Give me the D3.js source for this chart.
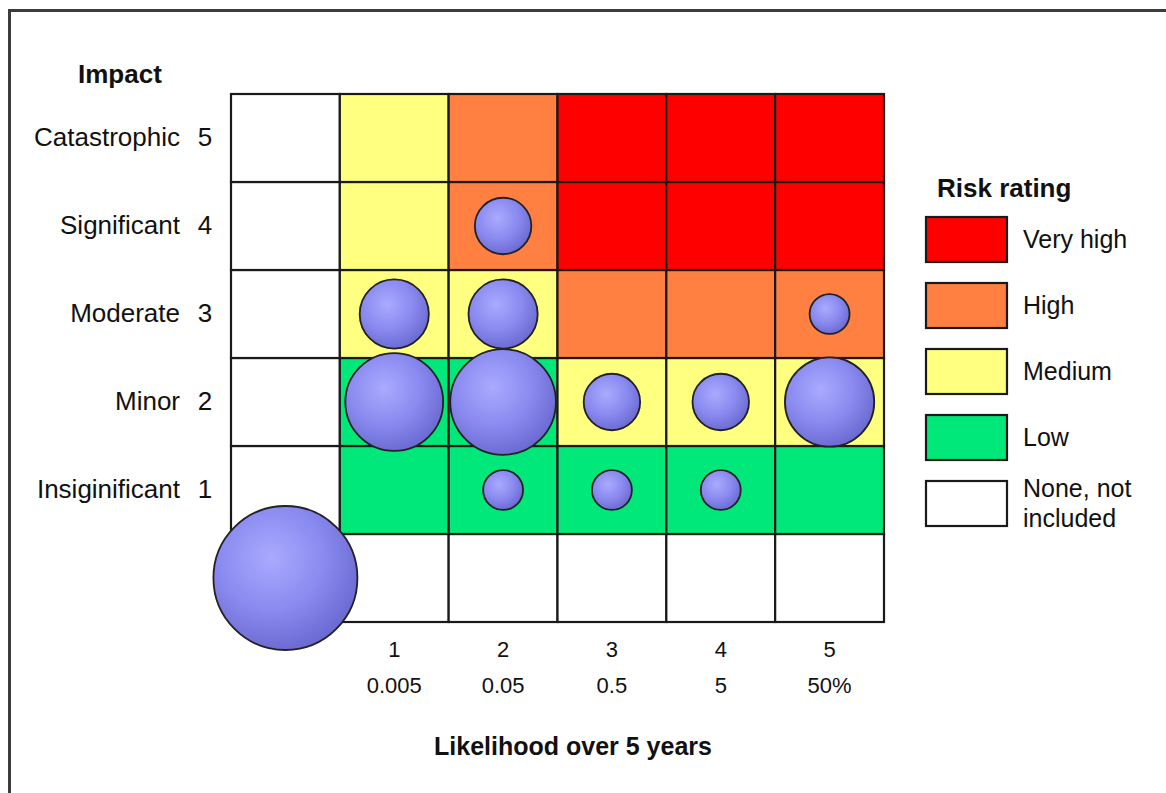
<!DOCTYPE html>
<html>
<head>
<meta charset="utf-8">
<script src="https://d3js.org/d3.v7.min.js"></script>
<style>
  html, body { margin: 0; padding: 0; background: #fff; }
  svg { display: block; }
  text { font-family: "Liberation Sans", Arial, sans-serif; fill: #111; }
</style>
</head>
<body>
<div id="chart"></div>
<script>
// likelihood columns (0 = not rated) and impact rows (0 = not rated)
const levels = [0, 1, 2, 3, 4, 5];
const likelihoodTicks = ["", "1", "2", "3", "4", "5"];
const likelihoodProb = ["", "0.005", "0.05", "0.5", "5", "50%"];
const impactNames = ["", "Insiginificant", "Minor", "Moderate", "Significant", "Catastrophic"];

// rating of each cell, one row per impact level (0..5), one entry per likelihood (0..5)
const ratingGrid = [
    ["none", "none",   "none",   "none",      "none",      "none"],
    ["none", "low",    "low",    "low",       "low",       "low"],
    ["none", "low",    "low",    "medium",    "medium",    "medium"],
    ["none", "medium", "medium", "high",      "high",      "high"],
    ["none", "medium", "high",   "very high", "very high", "very high"],
    ["none", "medium", "high",   "very high", "very high", "very high"]
];

const ratingKeys = ["very high", "high", "medium", "low", "none"];
const ratingLabels = ["Very high", "High", "Medium", "Low", "None, not|included"];
const ratingColors = ["#ff0000", "#ff8040", "#ffff80", "#00e87a", "#ffffff"];

// number of risks in each cell
const riskLikelihood = [0, 2, 1, 2, 5, 1, 2, 3, 4, 5, 2, 3, 4];
const riskImpact     = [0, 4, 3, 3, 3, 2, 2, 2, 2, 2, 1, 1, 1];
const riskCount      = [13, 2, 3, 3, 1, 6, 7, 2, 2, 5, 1, 1, 1];

const width = 1166, height = 793;

const svg = d3.select("#chart").append("svg")
    .attr("width", width)
    .attr("height", height);

// outer frame (only top and left edges are in view)
svg.append("path")
    .attr("d", `M9.5,${height} V10.5 H${width}`)
    .attr("fill", "none")
    .attr("stroke", "#3c3c3c")
    .attr("stroke-width", 3);

const x = d3.scaleBand().domain(levels).range([231, 884]);
const y = d3.scaleBand().domain(levels).range([622, 94]);
const color = d3.scaleOrdinal().domain(ratingKeys).range(ratingColors);
const r = d3.scaleSqrt().domain([0, 13]).range([0, 72]);

const defs = svg.append("defs");
const grad = defs.append("radialGradient")
    .attr("id", "ball")
    .attr("cx", "40%").attr("cy", "36%").attr("r", "66%");
grad.append("stop").attr("offset", "0%").attr("stop-color", "#aaaaff");
grad.append("stop").attr("offset", "55%").attr("stop-color", "#8a8af0");
grad.append("stop").attr("offset", "100%").attr("stop-color", "#6a6ad2");

// cells
const cells = [];
levels.forEach(i => levels.forEach(l => cells.push({ l: l, i: i, rating: ratingGrid[i][l] })));

svg.append("g").selectAll("rect")
    .data(cells)
    .join("rect")
    .attr("x", d => x(d.l))
    .attr("y", d => y(d.i))
    .attr("width", x.bandwidth())
    .attr("height", y.bandwidth())
    .attr("fill", d => color(d.rating))
    .attr("stroke", "#1a1a1a")
    .attr("stroke-width", 2.2);

// bubbles
const risks = riskCount.map((n, k) => ({ l: riskLikelihood[k], i: riskImpact[k], n: n }));

svg.append("g").selectAll("circle")
    .data(risks)
    .join("circle")
    .attr("cx", d => x(d.l) + x.bandwidth() / 2)
    .attr("cy", d => y(d.i) + y.bandwidth() / 2)
    .attr("r", d => r(d.n))
    .attr("fill", "url(#ball)")
    .attr("stroke", "#222")
    .attr("stroke-width", 1.8);

// impact labels
const rowLabels = svg.append("g");
levels.filter(i => i > 0).forEach(i => {
    const cy = y(i) + y.bandwidth() / 2;
    rowLabels.append("text")
        .attr("x", 180).attr("y", cy).attr("dy", "0.3em")
        .attr("text-anchor", "end")
        .style("font-size", "26px")
        .text(impactNames[i]);
    rowLabels.append("text")
        .attr("x", 205).attr("y", cy).attr("dy", "0.3em")
        .attr("text-anchor", "middle")
        .style("font-size", "26px")
        .text(i);
});

svg.append("text")
    .attr("x", 78).attr("y", 83)
    .style("font-size", "26px").style("font-weight", "bold")
    .text("Impact");

// likelihood labels
const colLabels = svg.append("g");
levels.filter(l => l > 0).forEach(l => {
    const cx = x(l) + x.bandwidth() / 2;
    colLabels.append("text")
        .attr("x", cx).attr("y", 657)
        .attr("text-anchor", "middle")
        .style("font-size", "22px")
        .text(likelihoodTicks[l]);
    colLabels.append("text")
        .attr("x", cx).attr("y", 693)
        .attr("text-anchor", "middle")
        .style("font-size", "22px")
        .text(likelihoodProb[l]);
});

svg.append("text")
    .attr("x", 573).attr("y", 755)
    .attr("text-anchor", "middle")
    .style("font-size", "25px").style("font-weight", "bold")
    .text("Likelihood over 5 years");

// legend
const legend = svg.append("g");
legend.append("text")
    .attr("x", 937).attr("y", 197)
    .style("font-size", "26px").style("font-weight", "bold")
    .text("Risk rating");

ratingKeys.forEach((k, n) => {
    const top = 217 + n * 66;
    legend.append("rect")
        .attr("x", 926).attr("y", top)
        .attr("width", 81).attr("height", 45)
        .attr("fill", color(k))
        .attr("stroke", "#1a1a1a")
        .attr("stroke-width", 2.2);
    const lines = ratingLabels[n].split("|");
    lines.forEach((line, j) => {
        legend.append("text")
            .attr("x", 1023)
            .attr("y", top + 22.5 + (j - (lines.length - 1) / 2) * 30)
            .attr("dy", "0.35em")
            .style("font-size", "25px")
            .text(line);
    });
});
</script>
</body>
</html>
